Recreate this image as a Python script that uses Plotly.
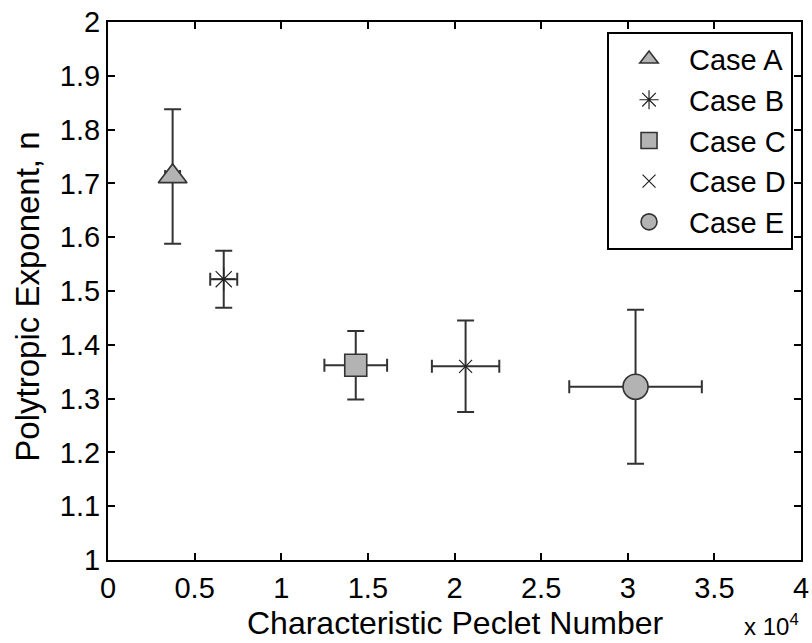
import plotly.graph_objects as go

# ---- data ----
cases = ["Case A", "Case B", "Case C", "Case D", "Case E"]
peclet = [3730, 6680, 14300, 20640, 30450]          # characteristic Peclet number
peclet_err = [430, 780, 1810, 1945, 3826]            # +/- error in Peclet
exponent = [1.713, 1.522, 1.362, 1.360, 1.322]       # polytropic exponent n
exponent_err = [0.125, 0.053, 0.0635, 0.085, 0.143]  # +/- error in n

x_tickvals = [0, 5000, 10000, 15000, 20000, 25000, 30000, 35000, 40000]
x_ticktext = ["0", "0.5", "1", "1.5", "2", "2.5", "3", "3.5", "4"]
x_title = "Characteristic Peclet Number"
y_title = "Polytropic Exponent, n"
x_exponent_label = "x 10<sup>4</sup>"

# ---- styles ----
symbols = ["triangle-up", "asterisk-open", "square", "x-thin-open", "circle"]
sizes = [25, 19, 22, 13, 25]
fill = "#b3b3b3"
edge = "#333333"
FONT = "Liberation Sans, Arial, sans-serif"

fig = go.Figure()
for i, name in enumerate(cases):
    sym = symbols[i]
    open_sym = sym.endswith("open")
    fig.add_trace(go.Scatter(
        x=[peclet[i]], y=[exponent[i]], name=name, mode="markers",
        marker=dict(symbol=sym, size=sizes[i],
                    color=("#222222" if open_sym else fill),
                    line=dict(color=("#222222" if open_sym else edge),
                              width=(1.2 if open_sym else 1.6))),
        error_y=dict(type="data", array=[exponent_err[i]], visible=True,
                     color=edge, thickness=2, width=8.5),
        error_x=dict(type="data", array=[peclet_err[i]], visible=True,
                     color=edge, thickness=2, width=6.5),
    ))

axis_common = dict(showline=True, linecolor="black", linewidth=2, mirror="ticks",
                   ticks="inside", ticklen=7, tickwidth=2, tickcolor="black",
                   showgrid=False, zeroline=False,
                   tickfont=dict(family=FONT, size=29, color="black"))

fig.update_layout(
    width=812, height=643,
    margin=dict(l=108, r=11, t=22, b=83, autoexpand=False),
    paper_bgcolor="white", plot_bgcolor="white",
    showlegend=True,
    legend=dict(x=0.9885, y=0.982, xanchor="right", yanchor="top",
                bgcolor="white", bordercolor="black", borderwidth=2,
                font=dict(family=FONT, size=29, color="black"),
                itemwidth=70, tracegroupgap=0),
    xaxis=dict(range=[0, 40000], tickvals=x_tickvals, ticktext=x_ticktext,
               ticklabelstandoff=1, **axis_common),
    yaxis=dict(range=[1, 2], dtick=0.1, tick0=1,
               ticklabelstandoff=0, **axis_common),
)

# axis titles
fig.add_annotation(text=x_title, xref="paper", yref="paper",
                   x=0.5, y=-0.1175, xanchor="center", yanchor="middle",
                   showarrow=False, font=dict(family=FONT, size=32, color="black"))
fig.add_annotation(text=y_title, xref="paper", yref="paper", textangle=-90,
                   x=-0.1165, y=0.490, xanchor="center", yanchor="middle",
                   showarrow=False, font=dict(family=FONT, size=33, color="black"))
# exponent label of the x axis
fig.add_annotation(text=x_exponent_label, xref="paper", yref="paper",
                   x=1.0, y=-0.153, xanchor="right", yanchor="bottom",
                   showarrow=False, font=dict(family=FONT, size=24, color="black"))

fig.write_html("out.html")
